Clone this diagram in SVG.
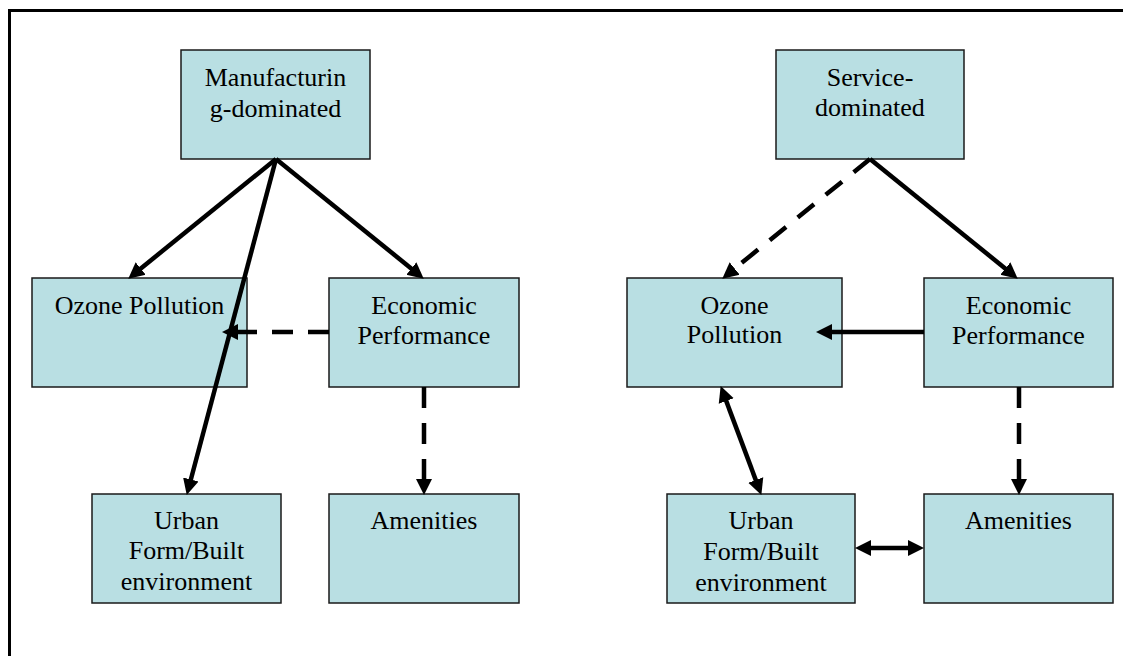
<svg xmlns="http://www.w3.org/2000/svg" width="1123" height="656" viewBox="0 0 1123 656">
<style>
.box{fill:#B9DFE3;stroke:#1a1a1a;stroke-width:1.5}
.t{font-family:'Liberation Serif','Times New Roman','DejaVu Serif',serif;font-size:26px;fill:#000;text-anchor:middle}
.c{stroke:#000;stroke-width:4.5;fill:none}
.d{stroke-dasharray:21 15}
.frame{stroke:#000;stroke-width:3;fill:none}
</style>
<defs>
<marker id="ah" markerUnits="userSpaceOnUse" markerWidth="17" markerHeight="17" refX="1" refY="8" orient="auto-start-reverse" viewBox="0 0 17 16">
<path d="M0,0 L16,8 L0,16 z" fill="#000"/>
</marker>
</defs>
<rect width="1123" height="656" fill="#fff"/>
<path class="frame" d="M9.5,656 V10.5 H1123"/>

<g id="manufacturing"><rect class="box" x="181" y="50" width="189" height="109"/><text class="t" x="275.5" y="86">Manufacturin</text><text class="t" x="275.5" y="117">g-dominated</text></g>
<g id="ozone-left"><rect class="box" x="32" y="278" width="215" height="109"/><text class="t" x="139.5" y="314">Ozone Pollution</text></g>
<g id="economic-left"><rect class="box" x="329" y="278" width="190" height="109"/><text class="t" x="424" y="314">Economic</text><text class="t" x="424" y="344">Performance</text></g>
<g id="urban-left"><rect class="box" x="92" y="494" width="189" height="109"/><text class="t" x="186.5" y="529">Urban</text><text class="t" x="186.5" y="559">Form/Built</text><text class="t" x="186.5" y="590">environment</text></g>
<g id="amenities-left"><rect class="box" x="329" y="494" width="190" height="109"/><text class="t" x="424" y="529">Amenities</text></g>

<g id="service"><rect class="box" x="776" y="50" width="188" height="109"/><text class="t" x="870" y="86">Service-</text><text class="t" x="870" y="116">dominated</text></g>
<g id="ozone-right"><rect class="box" x="627" y="278" width="215" height="109"/><text class="t" x="734.5" y="314">Ozone</text><text class="t" x="734.5" y="343">Pollution</text></g>
<g id="economic-right"><rect class="box" x="924" y="278" width="189" height="109"/><text class="t" x="1018.5" y="314">Economic</text><text class="t" x="1018.5" y="344">Performance</text></g>
<g id="urban-right"><rect class="box" x="667" y="494" width="188" height="109"/><text class="t" x="761" y="529">Urban</text><text class="t" x="761" y="560">Form/Built</text><text class="t" x="761" y="591">environment</text></g>
<g id="amenities-right"><rect class="box" x="924" y="494" width="189" height="109"/><text class="t" x="1018.5" y="529">Amenities</text></g>

<g id="connectors">
<path class="c" d="M276,159 L139.9,269.2" marker-end="url(#ah)"/>
<path class="c" d="M276,159 L412.1,269.2" marker-end="url(#ah)"/>
<path class="c" d="M276,159 L190.6,480.5" marker-end="url(#ah)"/>
<path class="c d" d="M329,332 L237,332" marker-end="url(#ah)"/>
<path class="c d" d="M424,387 L424,480" marker-end="url(#ah)"/>
<path class="c d" d="M870,159 L733.9,269.2" marker-end="url(#ah)"/>
<path class="c" d="M870,159 L1006.1,269.2" marker-end="url(#ah)"/>
<path class="c" d="M924,332 L831,332" marker-end="url(#ah)"/>
<path class="c d" d="M1019,387 L1019,480" marker-end="url(#ah)"/>
<path class="c" d="M725.9,400.1 L756.1,480.9" marker-start="url(#ah)" marker-end="url(#ah)"/>
<path class="c" d="M870,548 L909,548" marker-start="url(#ah)" marker-end="url(#ah)"/>
</g>
</svg>
